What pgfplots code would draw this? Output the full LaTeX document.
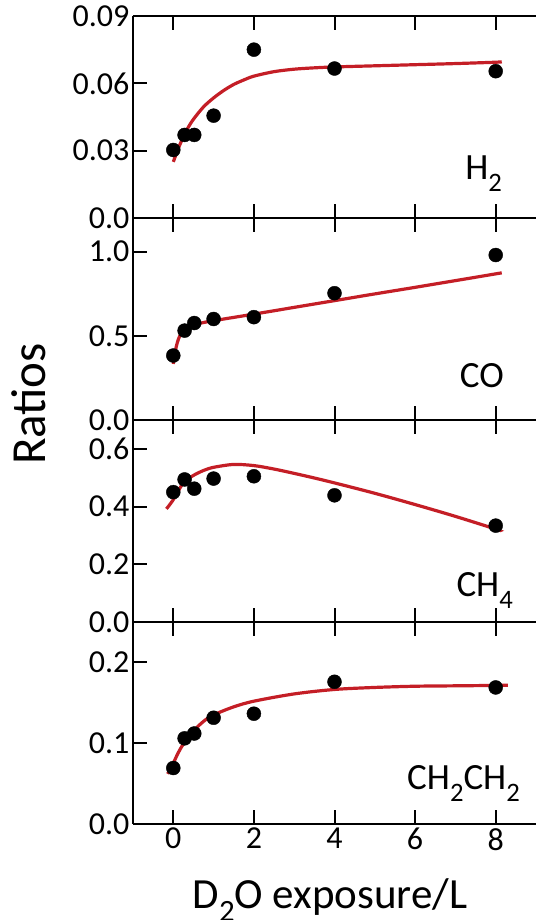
\documentclass[border=0pt]{standalone}
\usepackage{fontspec}
\setmainfont{Carlito}
\usepackage{graphicx}
\usepackage{pgfplots}
\pgfplotsset{compat=1.18}
\definecolor{fitred}{RGB}{196,30,38}
\newcommand{\sub}[1]{\raisebox{-0.32em}{\scalebox{0.72}{#1}}}
\pgfplotsset{
  panel/.style={
    scale only axis, width=403pt, height=202pt,
    xmin=-1, xmax=9,
    axis x line=box, axis y line=left,
    axis line style={-, line width=2pt, black},
    tick align=inside,
    major tick length=14pt,
    tick style={black, line width=2pt},
    xtick={0,2,4,6,8},
    xticklabels={},
    scaled y ticks=false,
    ticklabel style={font=\fontsize{32}{32}\selectfont},
    yticklabel style={inner sep=0.5pt, xshift=-3pt},
    xticklabel style={inner sep=4pt},
  },
  fit/.style={fitred, line width=3.2pt, smooth, tension=0.5},
  pts/.style={only marks, mark=*, mark size=7pt, black},
}
\begin{document}
\begin{tikzpicture}
\path[use as bounding box] (-133pt,0pt) rectangle (403pt,920pt);
% H2
\begin{axis}[panel, at={(0pt,702pt)}, anchor=south west,
  ymin=0, ymax=0.09, ytick={0,0.03,0.06,0.09}, yticklabels={0.0,0.03,0.06,0.09}]
\addplot[pts] coordinates {(0,0.0303) (0.28,0.037) (0.52,0.037) (1,0.0456) (2,0.0750) (4,0.0666) (8,0.0654)};
\addplot[fit] coordinates {(0,0.0250) (0.125,0.0310) (0.25,0.0362) (0.375,0.0405) (0.5,0.0440) (0.75,0.0495) (1,0.0535) (1.25,0.0568) (1.5,0.0595) (1.75,0.0615) (2,0.0632) (2.5,0.0652) (3,0.0663) (3.5,0.0669) (4,0.0673) (5,0.0678) (6,0.0683) (7,0.0688) (8,0.0694) (8.15,0.0696)};
\end{axis}
% CO
\begin{axis}[panel, at={(0pt,500pt)}, anchor=south west,
  ymin=0, ymax=1.2, ytick={0,0.5,1.0}, yticklabels={0.0,0.5,1.0}]
\addplot[pts] coordinates {(0,0.383) (0.28,0.531) (0.52,0.576) (1,0.600) (2,0.611) (4,0.753) (8,0.980)};
\addplot[fit] coordinates {(0,0.333) (0.05,0.409) (0.1,0.460) (0.15,0.494) (0.2,0.517) (0.3,0.544) (0.4,0.558) (0.5,0.566) (0.75,0.579) (1,0.590) (2,0.629) (3,0.669) (4,0.709) (5,0.749) (6,0.788) (7,0.828) (8,0.868) (8.15,0.874)};
\end{axis}
% CH4
\begin{axis}[panel, at={(0pt,298pt)}, anchor=south west,
  ymin=0, ymax=0.7, ytick={0,0.2,0.4,0.6}, yticklabels={0.0,0.2,0.4,0.6}]
\addplot[pts] coordinates {(0,0.450) (0.28,0.494) (0.52,0.462) (1,0.497) (2,0.505) (4,0.439) (8,0.334)};
\addplot[fit] coordinates {(-0.17,0.392) (0,0.424) (0.25,0.482) (0.5,0.508) (0.75,0.525) (1,0.536) (1.5,0.546) (2,0.542) (2.5,0.530) (3,0.515) (3.5,0.499) (4,0.482) (5,0.446) (6,0.407) (7,0.366) (8,0.322) (8.1,0.316)};
\end{axis}
% CH2CH2
\begin{axis}[panel, at={(0pt,96pt)}, anchor=south west,
  ymin=0, ymax=0.25, ytick={0,0.1,0.2}, yticklabels={0.0,0.1,0.2},
  xticklabels={0,2,4,6,8}]
\addplot[pts] coordinates {(0,0.0693) (0.28,0.106) (0.52,0.112) (1,0.1315) (2,0.1365) (4,0.176) (8,0.169)};
\addplot[fit] coordinates {(-0.14,0.062) (0,0.075) (0.1,0.086) (0.25,0.099) (0.5,0.115) (0.75,0.127) (1,0.135) (1.5,0.145) (2,0.152) (3,0.161) (4,0.1665) (5,0.169) (6,0.1705) (7,0.171) (8,0.1715) (8.3,0.1718)};
\end{axis}
% panel labels
\begin{scope}[every node/.style={inner sep=0pt, font=\fontsize{37}{37}\selectfont}]
\node[anchor=base east] at (369pt,740pt) {H\sub{2}};
\node[anchor=base east] at (371pt,532pt) {CO};
\node[anchor=base east] at (380pt,323pt) {CH\sub{4}};
\node[anchor=base east] at (387pt,130pt) {CH\sub{2}CH\sub{2}};
\end{scope}
\node[rotate=90, inner sep=0pt, font=\fontsize{49}{49}\selectfont] at (-104pt,516pt) {Ratios};
\node[anchor=base, inner sep=0pt, font=\fontsize{43}{43}\selectfont] at (197pt,12pt) {D\sub{2}O exposure/L};
\end{tikzpicture}
\end{document}
